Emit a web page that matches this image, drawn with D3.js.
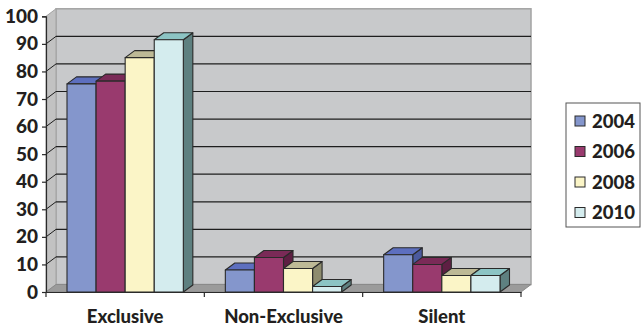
<!DOCTYPE html>
<html>
<head>
<meta charset="utf-8">
<script src="https://cdnjs.cloudflare.com/ajax/libs/d3/7.8.5/d3.min.js"></script>
<style>
  body { margin: 0; background: #fff; }
  svg text { font-family: Lato, "Open Sans", sans-serif; font-weight: 900; fill: #231f20; }
</style>
</head>
<body>
<div id="chart"></div>
<script>
// data
var categories = ["Exclusive", "Non-Exclusive", "Silent"];
var years = ["2004", "2006", "2008", "2010"];
var v2004 = [75.5, 8, 13.5];
var v2006 = [76.5, 12.5, 10];
var v2008 = [85, 8.5, 6];
var v2010 = [91.5, 2, 6];
var yTicks = [0, 10, 20, 30, 40, 50, 60, 70, 80, 90, 100];

var seriesValues = [v2004, v2006, v2008, v2010];
var colors = {
  front: ["#8496cc", "#993a6e", "#fbf5c7", "#d4ecee"],
  top:   ["#5d6fbf", "#7a2a57", "#bdb996", "#8cc4c4"],
  side:  ["#4b5a9e", "#5e1f43", "#8e8c6e", "#5e8080"]
};

var width = 641, height = 327;
var x0 = 46, x1 = 521, yBase = 292, yTop = 16.3;
var dx = 10, dy = -7.5;     // wall depth
var bdx = 9.5, bdy = -7;    // bar depth

var svg = d3.select("#chart").append("svg")
  .attr("width", width).attr("height", height);

var y = d3.scaleLinear().domain([0, 100]).range([yBase, yTop]);
var x = d3.scaleBand().domain(categories).range([x0, x1]);
var xs = d3.scaleBand().domain(years).range([21, x.bandwidth() - 21]);

// back wall
svg.append("rect")
  .attr("x", x0 + dx).attr("y", yTop + dy)
  .attr("width", x1 - x0).attr("height", yBase - yTop)
  .attr("fill", "#c8c9cb").attr("stroke", "#a3a3a3").attr("stroke-width", 1.5);

// left side wall
svg.append("polygon")
  .attr("points", [[x0, yTop], [x0 + dx, yTop + dy], [x0 + dx, yBase + dy], [x0, yBase]].join(" "))
  .attr("fill", "#c2c2c2").attr("stroke", "#a3a3a3").attr("stroke-width", 1);

// gridlines on back wall and side wall
yTicks.filter(function(t) { return t > 0 && t < 100; }).forEach(function(t) {
  svg.append("line")
    .attr("x1", x0 + dx).attr("x2", x1 + dx)
    .attr("y1", y(t) + dy).attr("y2", y(t) + dy)
    .attr("stroke", "#1e1e1e").attr("stroke-width", 1.2);
  svg.append("line")
    .attr("x1", x0).attr("x2", x0 + dx)
    .attr("y1", y(t)).attr("y2", y(t) + dy)
    .attr("stroke", "#1e1e1e").attr("stroke-width", 1);
});

// floor
svg.append("polygon")
  .attr("points", [[x0, yBase], [x0 + dx, yBase + dy], [x1 + dx, yBase + dy], [x1, yBase]].join(" "))
  .attr("fill", "#9b9b9b").attr("stroke", "#8a8a8a").attr("stroke-width", 1);

// bars
categories.forEach(function(c, ci) {
  years.forEach(function(yr, si) {
    var v = seriesValues[si][ci];
    var bx = x(c) + xs(yr), bw = xs.bandwidth();
    var ty = y(v), by = y(0);
    var g = svg.append("g").attr("stroke", "#2a2a2a").attr("stroke-width", 1.1).attr("stroke-linejoin", "round");
    g.append("polygon")
      .attr("points", [[bx + bw, ty], [bx + bw + bdx, ty + bdy], [bx + bw + bdx, by + bdy], [bx + bw, by]].join(" "))
      .attr("fill", colors.side[si]);
    g.append("polygon")
      .attr("points", [[bx, ty], [bx + bdx, ty + bdy], [bx + bw + bdx, ty + bdy], [bx + bw, ty]].join(" "))
      .attr("fill", colors.top[si]);
    g.append("rect")
      .attr("x", bx).attr("y", ty).attr("width", bw).attr("height", by - ty)
      .attr("fill", colors.front[si]);
  });
});

// y axis
var yAxis = svg.append("g")
  .attr("transform", "translate(" + x0 + ",0)")
  .call(d3.axisLeft(y).tickValues(yTicks).tickSize(4).tickPadding(4));
yAxis.select(".domain").attr("stroke", "#2a2a2a").attr("stroke-width", 1.2);
yAxis.selectAll(".tick line").attr("stroke", "#2a2a2a").attr("stroke-width", 1.2);
yAxis.selectAll("text").style("font-size", "19px").attr("fill", "#231f20");

// x axis
var xAxis = svg.append("g")
  .attr("transform", "translate(0," + yBase + ")")
  .call(d3.axisBottom(x).tickSize(0).tickPadding(18));
xAxis.select(".domain").attr("stroke", "#2a2a2a").attr("stroke-width", 1.2);
xAxis.selectAll("text").style("font-size", "18.5px").attr("fill", "#231f20");
x.domain().concat(["end"]).forEach(function(c, i) {
  var px = i < categories.length ? x(c) : x1;
  svg.append("line").attr("x1", px).attr("x2", px)
    .attr("y1", yBase).attr("y2", yBase + 5)
    .attr("stroke", "#2a2a2a").attr("stroke-width", 1.2);
});

// legend
var lg = svg.append("g");
lg.append("rect").attr("x", 566).attr("y", 103).attr("width", 74).attr("height", 124)
  .attr("fill", "#fff").attr("stroke", "#555").attr("stroke-width", 1);
years.forEach(function(yr, i) {
  var cy = 121 + i * 30.5;
  lg.append("rect").attr("x", 575).attr("y", cy - 5).attr("width", 10).attr("height", 10)
    .attr("fill", colors.front[i]).attr("stroke", "#2a2a2a").attr("stroke-width", 1);
  lg.append("text").attr("x", 592).attr("y", cy).attr("dy", "0.36em")
    .style("font-size", "18.5px").text(yr);
});
</script>
</body>
</html>
